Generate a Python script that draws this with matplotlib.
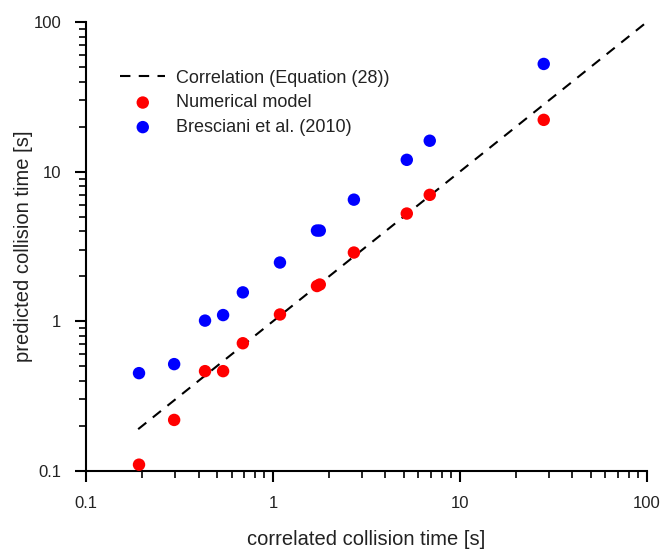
import matplotlib
matplotlib.use('Agg')
import matplotlib.pyplot as plt
from matplotlib.ticker import LogLocator, FixedLocator, FixedFormatter, NullFormatter

plt.rcParams['font.family'] = ['Liberation Sans', 'DejaVu Sans']

# data
corr_x = [0.19, 100]
corr_y = [0.19, 100]

t_corr = [0.192, 0.296, 0.433, 0.541, 0.69, 1.09, 1.72, 1.78, 2.71, 5.2, 6.9, 28.1]
t_num = [0.11, 0.219, 0.464, 0.464, 0.713, 1.11, 1.72, 1.76, 2.88, 5.25, 7.0, 22.2]
t_bres = [0.45, 0.517, 1.01, 1.10, 1.56, 2.47, 4.04, 4.04, 6.5, 12.0, 16.1, 52.5]

ticks = [0.1, 1, 10, 100]
tick_labels = ['0.1', '1', '10', '100']

fig = plt.figure(figsize=(6.62, 5.52), dpi=100)
ax = fig.add_axes([0.130, 0.147, 0.847, 0.813])

ax.plot(corr_x, corr_y, color='black', linestyle=(0, (5, 4)), linewidth=1.5,
        label='Correlation (Equation (28))')
ax.scatter(t_corr, t_num, s=80, color='#ff0000', edgecolors='none', label='Numerical model', zorder=3)
ax.scatter(t_corr, t_bres, s=80, color='#0000ff', edgecolors='none', label='Bresciani et al. (2010)', zorder=3)

ax.set_xscale('log')
ax.set_yscale('log')
ax.set_xlim(0.1, 100)
ax.set_ylim(0.1, 100)

for axis in (ax.xaxis, ax.yaxis):
    axis.set_major_locator(FixedLocator(ticks))
    axis.set_major_formatter(FixedFormatter(tick_labels))
    axis.set_minor_locator(LogLocator(base=10, subs=range(2, 10)))
    axis.set_minor_formatter(NullFormatter())

ax.tick_params(which='major', direction='out', length=8, width=1.5, labelsize=12, pad=10,
               labelcolor='#222222')
ax.tick_params(which='minor', direction='out', length=5, width=1.2)
ax.spines['top'].set_visible(False)
ax.spines['right'].set_visible(False)
ax.spines['left'].set_linewidth(1.5)
ax.spines['bottom'].set_linewidth(1.5)

ax.set_xlabel('correlated collision time [s]', fontsize=14.5, labelpad=14, color='#222222')
ax.set_ylabel('predicted collision time [s]', fontsize=14.5, labelpad=0, color='#222222')

ax.legend(loc='upper left', bbox_to_anchor=(0.048, 0.91), frameon=False, fontsize=13,
          handlelength=2.5, handletextpad=0.6, labelspacing=0.42, borderaxespad=0,
          labelcolor='#222222')

fig.savefig('out.png', dpi=100)
